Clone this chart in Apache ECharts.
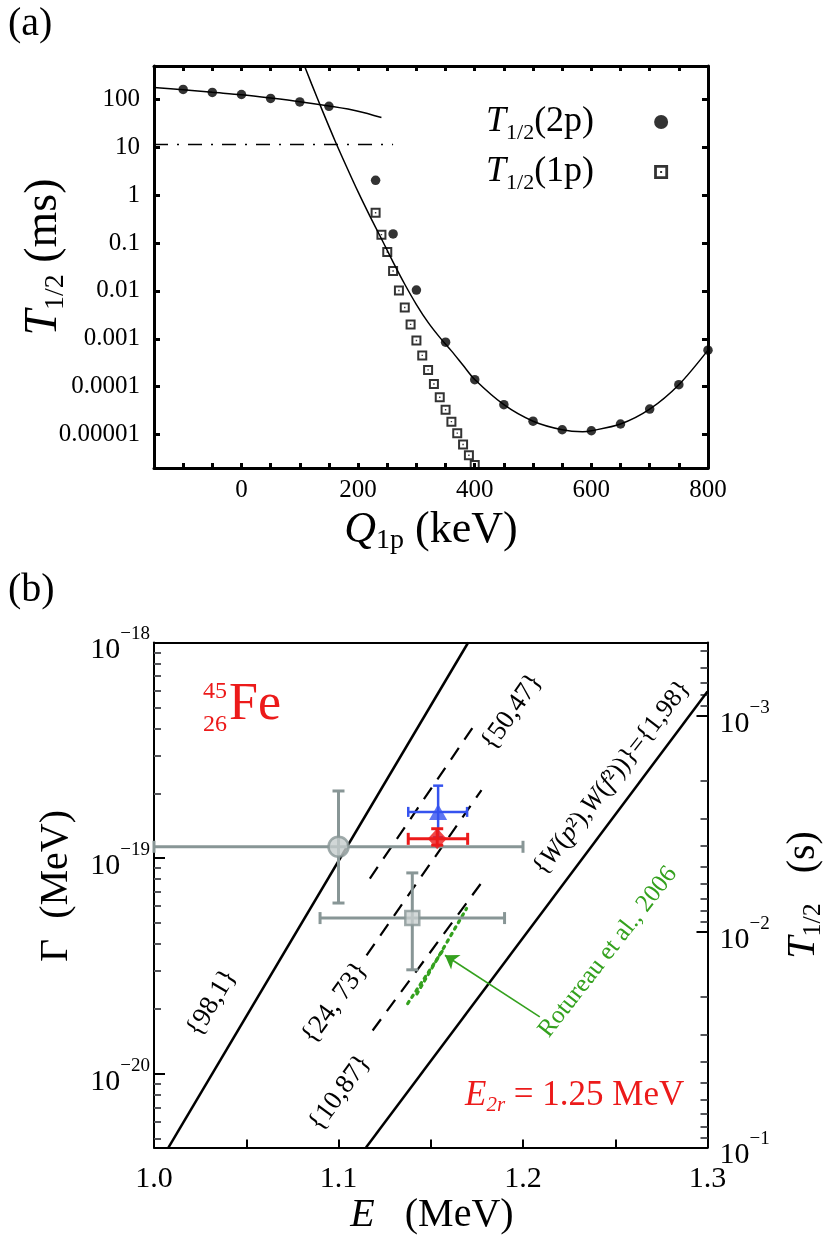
<!DOCTYPE html>
<html lang="en" style="height: 100%;overflow: hidden;">
<head>
  <meta charset="utf-8">
  <style>
    html, body { margin: 0; height: 100%; background: #fff; }
    #container { width: 829px; height: 1244px; }
  </style>
</head>
<body>
  <div id="container"></div>
  <script type="text/javascript" src="https://fastly.jsdelivr.net/npm/echarts@6/dist/echarts.min.js"></script>
  <script type="text/javascript">
    // ---------- panel (a): half-lives vs Q1p ----------
    var q2p = [-100, -50, 0, 50, 100, 150, 230, 260, 300, 350, 400, 450, 500, 550, 600, 650, 700, 750, 800];
    var t2p = [162, 140, 127, 105, 89, 72, 2.05, 0.155, 0.0104, 8.5e-4, 1.4e-4, 4.2e-5, 1.9e-5, 1.26e-5, 1.2e-5, 1.66e-5, 3.4e-5, 1.1e-4, 5.8e-4];
    var q1p = [230, 240, 250, 260, 270, 280, 290, 300, 310, 320, 330, 340, 350, 360, 370, 380, 390, 400];
    var t1p = [0.43, 0.15, 0.065, 0.026, 0.0102, 0.0045, 0.002, 9.2e-4, 4.5e-4, 2.24e-4, 1.14e-4, 6.0e-5, 3.3e-5, 1.86e-5, 1.07e-5, 6.2e-6, 3.7e-6, 2.3e-6];
    var qPlateau = [-150, -100, -50, 0, 50, 100, 150, 200, 240];
    var tPlateau = [178, 160, 141, 125, 107, 90, 73, 57, 42];
    var qFit = [100, 120, 140, 160, 180, 200, 220, 240, 260, 280, 300, 320, 340, 360, 380, 400, 450, 500, 550, 585, 600, 650, 700, 750, 800];
    var tFit = [891, 214, 53.7, 14.1, 3.98, 1.17, 0.37, 0.123, 0.040, 0.0138, 0.0052, 0.0022, 0.00107, 5.6e-4, 2.8e-4, 1.41e-4, 4.2e-5, 1.9e-5, 1.26e-5, 1.15e-5, 1.2e-5, 1.66e-5, 3.4e-5, 1.1e-4, 5.8e-4];
    var qLimit = [-150, 260];
    var tLimit = [11.5, 11.5];
    var aTicks = [1e-5, 1e-4, 1e-3, 1e-2, 1e-1, 1, 10, 100];

    // ---------- panel (b): width vs energy ----------
    var line98_1 = [[1.0078, 4.56e-21], [1.1703, 1.0e-18]];
    var line1_98 = [[1.1149, 4.56e-21], [1.3, 5.92e-19]];
    var line50_47 = [[1.1170, 8.05e-20], [1.1727, 4.03e-19]];
    var line24_73 = [[1.1152, 3.55e-20], [1.1775, 2.07e-19]];
    var line10_87 = [[1.1185, 1.59e-20], [1.1772, 7.64e-20]];
    var rotureauA = [[1.1375, 2.12e-20], [1.1575, 3.85e-20]];
    var rotureauB = [[1.1425, 2.35e-20], [1.1694, 5.85e-20]];
    var arrowFrom = [1.2091, 1.84e-20];
    var arrowTo = [1.1577, 3.55e-20];
    // [E, Gamma, E low, E high, Gamma low, Gamma high]
    var circlePt = [1.10, 1.13e-19, 1.00, 1.20, 6.2e-20, 2.05e-19];
    var squarePt = [1.14, 5.28e-20, 1.09, 1.19, 3.04e-20, 8.55e-20];
    var trianglePt = [1.154, 1.64e-19, 1.1378, 1.1697, 1.25e-19, 2.17e-19];
    var diamondPt = [1.1535, 1.23e-19, 1.1378, 1.1700, 1.15e-19, 1.37e-19];
    var gammaTicks = [1e-20, 1e-19, 1e-18];
    var halfLifeTicks = [1e-3, 1e-2, 1e-1];

    var HBAR_LN2 = 6.582119e-22 * Math.LN2; // MeV s
    var G_MAX = 1e-18, T_MAX = 0.1;
    var G_MIN = HBAR_LN2 / T_MAX, T_MIN = HBAR_LN2 / G_MAX;

    var F = "'Liberation Serif', 'DejaVu Serif', serif";
    var GRAY = '#889696', GREEN = '#34a11e', RED = '#ec1a1a', BLUE = '#3553ef';

    function zip(xs, ys) { return xs.map(function (x, i) { return [x, ys[i]]; }); }
    function minorLog(lo, hi) {
      var out = [];
      for (var e = Math.floor(Math.log10(lo)); e <= Math.ceil(Math.log10(hi)); e++) {
        for (var k = 2; k <= 9; k++) {
          var v = k * Math.pow(10, e);
          if (v > lo && v < hi) out.push(v);
        }
      }
      return out;
    }
    function decimalLabel(v) {
      var e = Math.round(Math.log10(v));
      return e >= 0 ? String(Math.round(Math.pow(10, e))) : '0.' + '0'.repeat(-e - 1) + '1';
    }
    function powLabel(v) {
      return '{b|10}{u|\u2212' + Math.abs(Math.round(Math.log10(v))) + '}';
    }
    var powRich = {
      b: { fontSize: 30, fontFamily: F, lineHeight: 36, padding: [16, 0, 0, 0] },
      u: { fontSize: 19, fontFamily: F, lineHeight: 36, padding: [0, 0, 16, 0] }
    };
    // rich styles: italic, normal, subscript (shifted down by d px)
    function richSet(size, sub, d) {
      var L = Math.round(size * 1.25);
      return {
        it: { fontSize: size, fontStyle: 'italic', fontFamily: F, lineHeight: L },
        n: { fontSize: size, fontFamily: F, lineHeight: L },
        s: { fontSize: sub, fontFamily: F, lineHeight: L, padding: [2 * d, 0, 0, 0] },
        si: { fontSize: sub, fontStyle: 'italic', fontFamily: F, lineHeight: L, padding: [2 * d, 0, 0, 0] }
      };
    }
    function txt(x, y, text, size, opt) {
      opt = opt || {};
      return {
        type: 'text', x: x, y: y, silent: true,
        rotation: (opt.rot || 0) * Math.PI / 180,
        style: {
          text: text, fontFamily: F, fontSize: size, fill: opt.color || '#000',
          align: opt.align || 'center', verticalAlign: 'middle', rich: opt.rich
        }
      };
    }
    function errorBars(capX, capY, color, width) {
      return function (params, api) {
        var c = api.coord([api.value(0), api.value(1)]);
        var l = api.coord([api.value(2), api.value(1)]);
        var r = api.coord([api.value(3), api.value(1)]);
        var b = api.coord([api.value(0), api.value(4)]);
        var t = api.coord([api.value(0), api.value(5)]);
        var st = { stroke: color, lineWidth: width };
        function ln(x1, y1, x2, y2) { return { type: 'line', shape: { x1: x1, y1: y1, x2: x2, y2: y2 }, style: st }; }
        return {
          type: 'group', children: [
            ln(l[0], c[1], r[0], c[1]), ln(c[0], b[1], c[0], t[1]),
            ln(l[0], c[1] - capX, l[0], c[1] + capX), ln(r[0], c[1] - capX, r[0], c[1] + capX),
            ln(c[0] - capY, b[1], c[0] + capY, b[1]), ln(c[0] - capY, t[1], c[0] + capY, t[1])
          ]
        };
      };
    }
    function bLine(data, style) {
      return { type: 'line', xAxisIndex: 2, yAxisIndex: 2, data: data, symbol: 'none', silent: true, lineStyle: style, z: 2 };
    }

    var SQUARE = 'path://M0,0H10V10H0Z M2,2V8H8V2Z M4.3,4.3H5.7V5.7H4.3Z';
    var NAME_2P = 'T1/2(2p)', NAME_1P = 'T1/2(1p)';

    var dom = document.getElementById('container');
    var myChart = echarts.init(dom, null, { renderer: 'canvas' });
    var axisA = { onZero: false, lineStyle: { color: '#000', width: 3 } };
    var axisB = { onZero: false, lineStyle: { color: '#000', width: 2 } };

    var option = {
      animation: false,
      backgroundColor: '#fff',
      textStyle: { fontFamily: F, color: '#000' },
      grid: [
        { left: 154, top: 66, width: 554, height: 402 },
        { left: 154, top: 642.5, width: 553.5, height: 505 }
      ],
      xAxis: [
        { gridIndex: 0, type: 'value', min: -150, max: 800, interval: 50, axisLine: axisA,
          axisTick: { inside: true, length: 5, lineStyle: { width: 3 } }, splitLine: { show: false },
          axisLabel: { fontSize: 25, fontFamily: F, color: '#000', margin: 10,
            formatter: function (v) { return v % 200 === 0 ? String(v) : ''; } } },
        { gridIndex: 0, type: 'value', position: 'top', min: -150, max: 800, interval: 50, axisLine: axisA,
          axisTick: { inside: true, length: 5, lineStyle: { width: 3 } }, axisLabel: { show: false }, splitLine: { show: false } },
        { gridIndex: 1, type: 'value', min: 1.0, max: 1.3, interval: 0.05, axisLine: axisB,
          axisTick: { inside: true, length: 8, lineStyle: { width: 2 } }, splitLine: { show: false },
          axisLabel: { fontSize: 30, fontFamily: F, color: '#000', margin: 17,
            formatter: function (v) { return Math.abs(v * 10 - Math.round(v * 10)) < 1e-6 ? v.toFixed(1) : ''; } } },
        { gridIndex: 1, type: 'value', position: 'top', min: 1.0, max: 1.3, axisLine: axisB,
          axisTick: { show: false }, axisLabel: { show: false }, splitLine: { show: false } }
      ],
      yAxis: [
        { gridIndex: 0, type: 'log', logBase: 10, min: 2e-6, max: 500, position: 'left', axisLine: axisA,
          axisTick: { inside: true, length: 6, lineStyle: { width: 3 }, customValues: aTicks },
          axisLabel: { customValues: aTicks, fontSize: 25, fontFamily: F, color: '#000', margin: 14, formatter: decimalLabel },
          splitLine: { show: false } },
        { gridIndex: 0, type: 'log', logBase: 10, min: 2e-6, max: 500, position: 'right', axisLine: axisA,
          axisTick: { inside: true, length: 6, lineStyle: { width: 3 }, customValues: aTicks },
          axisLabel: { show: false }, splitLine: { show: false } },
        { gridIndex: 1, type: 'log', logBase: 10, min: G_MIN, max: G_MAX, position: 'left', axisLine: axisB,
          axisTick: { inside: true, length: 11, lineStyle: { width: 2 }, customValues: gammaTicks },
          axisLabel: { customValues: gammaTicks, margin: 4, formatter: powLabel, rich: powRich },
          splitLine: { show: false } },
        { gridIndex: 1, type: 'log', logBase: 10, min: G_MIN, max: G_MAX, position: 'left', axisLine: { show: false, onZero: false },
          axisTick: { inside: true, length: 7, lineStyle: { width: 2 }, customValues: minorLog(G_MIN, G_MAX) },
          axisLabel: { show: false }, splitLine: { show: false } },
        { gridIndex: 1, type: 'log', logBase: 10, inverse: true, min: T_MIN, max: T_MAX, position: 'right', axisLine: axisB,
          axisTick: { inside: true, length: 11, lineStyle: { width: 2 }, customValues: halfLifeTicks },
          axisLabel: { customValues: halfLifeTicks, margin: 12, formatter: powLabel, rich: powRich },
          splitLine: { show: false } },
        { gridIndex: 1, type: 'log', logBase: 10, inverse: true, min: T_MIN, max: T_MAX, position: 'right', axisLine: { show: false, onZero: false },
          axisTick: { inside: true, length: 7, lineStyle: { width: 2 }, customValues: minorLog(T_MIN, T_MAX) },
          axisLabel: { show: false }, splitLine: { show: false } }
      ],
      legend: {
        left: 481, top: 95, orient: 'vertical', align: 'right', itemGap: 6,
        itemWidth: 14, itemHeight: 14, selectedMode: false,
        data: [NAME_2P, NAME_1P],
        formatter: function (name) {
          return '{it|T}{s|1/2}{n|' + (name === NAME_2P ? '(2p)' : '(1p)') + '}';
        },
        textStyle: { color: '#000', padding: [0, 55, 0, 0], rich: richSet(36, 22, 11) }
      },
      graphic: [
        txt(8, 24, '(a)', 40, { align: 'left' }),
        txt(8, 590, '(b)', 40, { align: 'left' }),
        txt(44, 257, '{it|T}{s|1/2}{n| (ms)}', 46, { rot: 90, rich: richSet(46, 28, 12) }),
        txt(431, 530, '{it|Q}{s|1p}{n| (keV)}', 44, { rich: richSet(44, 28, 11) }),
        txt(56, 886, '\u0393  (MeV)', 40, { rot: 90 }),
        txt(432, 1215, '{it|E}{n|   (MeV)}', 40, { rich: richSet(40, 26, 10) }),
        txt(803, 895, '{it|T}{s|1/2}{n|   (s)}', 40, { rot: 90, rich: richSet(40, 26, 10) }),
        txt(203, 692, '45', 24, { align: 'left', color: RED }),
        txt(203, 725, '26', 24, { align: 'left', color: RED }),
        txt(229, 705, 'Fe', 52, { align: 'left', color: RED }),
        txt(465, 1096, '{it|E}{si|2r}{n| = 1.25 MeV}', 35, { align: 'left', color: RED, rich: richSet(35, 21, 9) }),
        txt(212, 1003, '{98,1}', 27, { rot: 59 }),
        txt(335, 1003, '{24, 73}', 27, { rot: 54 }),
        txt(340, 1093, '{10,87}', 27, { rot: 54 }),
        txt(512, 712, '{50,47}', 27, { rot: 55 }),
        txt(612, 778, '{{it|W}(' + '{it|p}\u00b2),' + '{it|W}(' + '{it|f}\u00b2))}={1,98}', 26,
          { rot: 52, rich: { it: { fontSize: 26, fontStyle: 'italic', fontFamily: F } } }),
        txt(608, 952, 'Rotureau et al., 2006', 25, { rot: 52, color: GREEN })
      ],
      series: [
        // ---- panel (a)
        { type: 'line', xAxisIndex: 0, yAxisIndex: 0, data: zip(qPlateau, tPlateau), symbol: 'none', smooth: 0.3,
          silent: true, lineStyle: { color: '#000', width: 1.5 } },
        { type: 'line', xAxisIndex: 0, yAxisIndex: 0, data: zip(qFit, tFit), symbol: 'none', smooth: 0.3,
          silent: true, lineStyle: { color: '#000', width: 1.5 } },
        { type: 'line', xAxisIndex: 0, yAxisIndex: 0, data: zip(qLimit, tLimit), symbol: 'none',
          silent: true, lineStyle: { color: '#000', width: 1.5, type: [14, 9, 2, 9] } },
        { name: NAME_1P, type: 'scatter', xAxisIndex: 0, yAxisIndex: 0, data: zip(q1p, t1p),
          symbol: SQUARE, symbolSize: 10, itemStyle: { color: '#000' }, z: 3 },
        { name: NAME_2P, type: 'scatter', xAxisIndex: 0, yAxisIndex: 0, data: zip(q2p, t2p),
          symbol: 'circle', symbolSize: 9.5, itemStyle: { color: '#000' }, z: 4 },
        // ---- panel (b)
        bLine(line98_1, { color: '#000', width: 2.5 }),
        bLine(line1_98, { color: '#000', width: 2.5 }),
        bLine(line50_47, { color: '#000', width: 2.2, type: [14, 10] }),
        bLine(line24_73, { color: '#000', width: 2.2, type: [14, 10] }),
        bLine(line10_87, { color: '#000', width: 2.2, type: [14, 10] }),
        bLine(rotureauA, { color: GREEN, width: 3.2, type: [2.5, 5], cap: 'round' }),
        Object.assign(bLine(rotureauB, { color: GREEN, width: 3.2, type: [2.5, 5], cap: 'round' }), {
          markLine: {
            silent: true, symbol: ['none', 'arrow'], symbolSize: 13, label: { show: false },
            lineStyle: { color: GREEN, width: 1.6, type: 'solid' },
            data: [[{ coord: arrowFrom }, { coord: arrowTo }]]
          }
        }),
        { type: 'custom', xAxisIndex: 2, yAxisIndex: 2, encode: { x: 0, y: 1 }, silent: true, z: 3,
          renderItem: errorBars(6, 6, GRAY, 3), data: [circlePt, squarePt] },
        { type: 'custom', xAxisIndex: 2, yAxisIndex: 2, encode: { x: 0, y: 1 }, silent: true, z: 3,
          renderItem: errorBars(5, 5, BLUE, 2.5), data: [trianglePt] },
        { type: 'custom', xAxisIndex: 2, yAxisIndex: 2, encode: { x: 0, y: 1 }, silent: true, z: 3,
          renderItem: errorBars(6, 6, RED, 3), data: [diamondPt] },
        { type: 'scatter', xAxisIndex: 2, yAxisIndex: 2, data: [circlePt.slice(0, 2)], symbol: 'circle', symbolSize: 20,
          itemStyle: { color: '#c6cdcd', borderColor: GRAY, borderWidth: 2.5 }, silent: true, z: 4 },
        { type: 'scatter', xAxisIndex: 2, yAxisIndex: 2, data: [squarePt.slice(0, 2)], symbol: 'rect', symbolSize: 14,
          itemStyle: { color: '#c9cfcf', borderColor: GRAY, borderWidth: 2.5 }, silent: true, z: 4 },
        { type: 'scatter', xAxisIndex: 2, yAxisIndex: 2, data: [trianglePt.slice(0, 2)], symbol: 'triangle', symbolSize: [18, 16],
          itemStyle: { color: BLUE }, silent: true, z: 4 },
        { type: 'scatter', xAxisIndex: 2, yAxisIndex: 2, data: [diamondPt.slice(0, 2)], symbol: 'diamond', symbolSize: [19, 21],
          itemStyle: { color: RED }, silent: true, z: 5 }
      ]
    };

    myChart.setOption(option);
    window.addEventListener('resize', myChart.resize);
  </script>
</body>
</html>
